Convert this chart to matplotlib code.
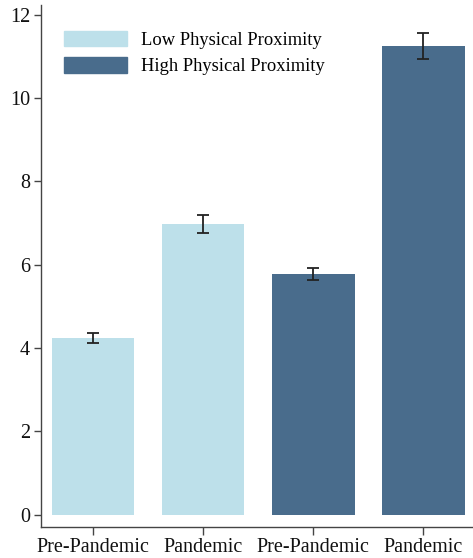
import numpy as np
import matplotlib.pyplot as plt
from matplotlib.patches import Patch

plt.rcParams['font.family'] = ['Liberation Serif', 'DejaVu Serif']

# datos
labels = ['Pre-Pandemic', 'Pandemic', 'Pre-Pandemic', 'Pandemic']
values = [4.25, 6.97, 5.78, 11.25]
errors = [0.12, 0.21, 0.14, 0.31]
groups = ['Low Physical Proximity', 'Low Physical Proximity',
          'High Physical Proximity', 'High Physical Proximity']

light = '#bde0ea'
dark = '#496c8c'
colors = [light if g.startswith('Low') else dark for g in groups]

fig = plt.figure(figsize=(4.73, 5.58), dpi=100)
ax = fig.add_axes([0.087, 0.056, 0.913, 0.935])

x = np.arange(len(values))
ax.bar(x, values, width=0.75, color=colors)
ax.errorbar(x, values, yerr=errors, fmt='none', ecolor='#222222',
            elinewidth=1.3, capsize=4, capthick=1.3)

ax.set_xlim(-0.47, 3.45)
ax.set_ylim(-0.29, 12.23)
ax.set_yticks([0, 2, 4, 6, 8, 10, 12])
ax.set_xticks(x)
ax.set_xticklabels(labels)

for s in ['top', 'right']:
    ax.spines[s].set_visible(False)
for s in ['left', 'bottom']:
    ax.spines[s].set_color('#444444')
    ax.spines[s].set_linewidth(1.0)
ax.tick_params(axis='both', colors='#444444', labelcolor='#111111',
               labelsize=14.5, length=5, width=1.0)
ax.tick_params(axis='x', length=6, pad=2)
ax.tick_params(axis='y', pad=3)

handles = [Patch(color=light, label='Low Physical Proximity'),
           Patch(color=dark, label='High Physical Proximity')]
ax.legend(handles=handles, loc='upper left', bbox_to_anchor=(0.015, 0.983),
          frameon=False, fontsize=13.3, handlelength=3.4, handleheight=0.95,
          handletextpad=0.75, labelspacing=0.45)

fig.savefig('out.png', dpi=100)
